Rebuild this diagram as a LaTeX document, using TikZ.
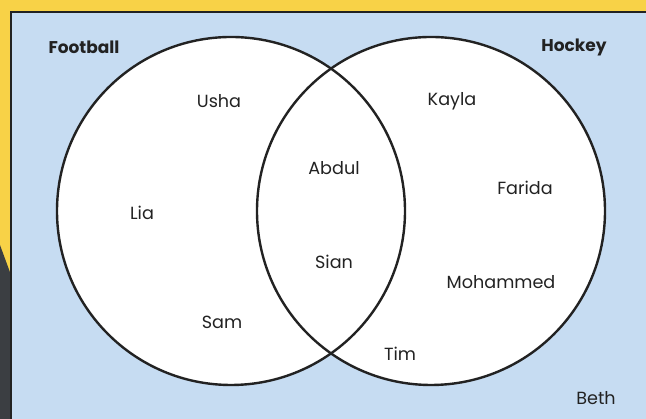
\documentclass[tikz,border=0pt]{standalone}
\usepackage{fontspec}
\setmainfont{Poppins}
\definecolor{bgyellow}{HTML}{F8D247}
\definecolor{panelblue}{HTML}{C6DCF2}
\definecolor{inkdark}{HTML}{222222}
\definecolor{stripdark}{HTML}{3B3E42}
\begin{document}
\begin{tikzpicture}[x=1pt,y=1pt,
  lbl/.style={font=\fontsize{17.6}{20}\selectfont, text=inkdark},
  title/.style={font=\bfseries\fontsize{17}{19}\selectfont, text=inkdark},
  ring/.style={draw=inkdark, line width=2.4pt}]
\useasboundingbox (0,0) rectangle (646,419);
\fill[bgyellow] (0,0) rectangle (646,419);
\fill[stripdark] (0,0) -- (0,174) -- (11,144) -- (11,0) -- cycle;
\fill[panelblue, draw=inkdark, line width=2.6pt] (11,-5) rectangle (651,407);
\coordinate (cl) at (231,208);
\coordinate (cr) at (431,208);
\fill[white] (cl) circle (174);
\fill[white] (cr) circle (174);
\draw[ring] (cl) circle (174);
\draw[ring] (cr) circle (174);
\node[title] (football) at (84,372) {Football};
\node[title] (hockey) at (574,372) {Hockey};
\node[lbl] (usha) at (219,318) {Usha};
\node[lbl] (lia) at (142,206) {Lia};
\node[lbl] (sam) at (222,97) {Sam};
\node[lbl] (abdul) at (334,251) {Abdul};
\node[lbl] (sian) at (334,157) {Sian};
\node[lbl] (kayla) at (452,318) {Kayla};
\node[lbl] (farida) at (525,231) {Farida};
\node[lbl] (mohammed) at (501,137) {Mohammed};
\node[lbl] (tim) at (400,65) {Tim};
\node[lbl] (beth) at (596,21) {Beth};
\end{tikzpicture}
\end{document}
